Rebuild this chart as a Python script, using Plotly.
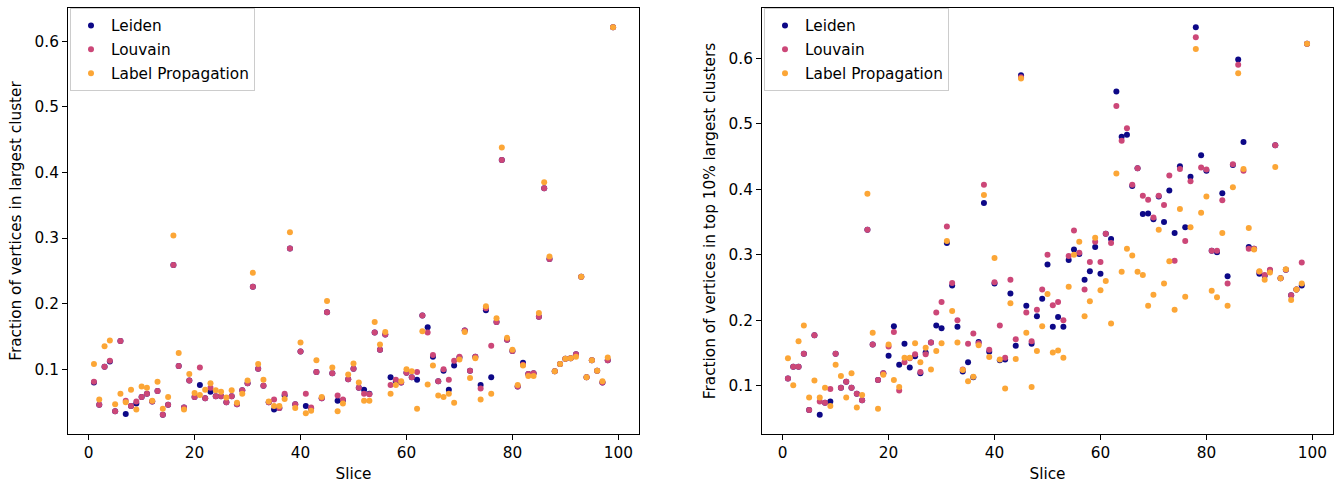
import plotly.graph_objects as go

slices = list(range(1, 100))

# Left panel: fraction of vertices in largest cluster
largest_leiden = [
    0.080, 0.046, 0.104, 0.112, 0.036, 0.143, 0.032, 0.044, 0.048, 0.058,
    0.063, 0.051, 0.067, 0.031, 0.046, 0.259, 0.105, 0.042, 0.083, 0.058,
    0.076, 0.056, 0.066, 0.059, 0.059, 0.050, 0.059, 0.047, 0.068, 0.079,
    0.226, 0.101, 0.075, 0.050, 0.039, 0.041, 0.060, 0.284, 0.047, 0.127,
    0.044, 0.040, 0.096, 0.056, 0.187, 0.094, 0.052, 0.053, 0.085, 0.101,
    0.072, 0.069, 0.063, 0.156, 0.130, 0.153, 0.088, 0.082, 0.080, 0.095,
    0.088, 0.084, 0.182, 0.164, 0.119, 0.082, 0.098, 0.069, 0.106, 0.118,
    0.159, 0.098, 0.119, 0.076, 0.190, 0.088, 0.172, 0.419, 0.145, 0.128,
    0.074, 0.110, 0.093, 0.094, 0.180, 0.376, 0.268, 0.097, 0.108, 0.116,
    0.117, 0.123, 0.241, 0.088, 0.114, 0.098, 0.080, 0.114, 0.621,
]
largest_louvain = [
    0.081, 0.046, 0.104, 0.113, 0.036, 0.143, 0.052, 0.044, 0.051, 0.058,
    0.063, 0.051, 0.067, 0.031, 0.046, 0.259, 0.105, 0.042, 0.083, 0.058,
    0.103, 0.056, 0.072, 0.059, 0.059, 0.050, 0.059, 0.047, 0.068, 0.079,
    0.226, 0.101, 0.075, 0.050, 0.054, 0.041, 0.063, 0.284, 0.047, 0.127,
    0.063, 0.042, 0.096, 0.056, 0.187, 0.094, 0.060, 0.054, 0.085, 0.101,
    0.072, 0.063, 0.062, 0.156, 0.130, 0.153, 0.076, 0.084, 0.080, 0.095,
    0.088, 0.096, 0.182, 0.156, 0.122, 0.082, 0.100, 0.084, 0.113, 0.119,
    0.159, 0.098, 0.119, 0.071, 0.193, 0.136, 0.172, 0.419, 0.145, 0.128,
    0.074, 0.107, 0.093, 0.094, 0.180, 0.376, 0.268, 0.097, 0.108, 0.116,
    0.117, 0.123, 0.241, 0.088, 0.114, 0.098, 0.080, 0.114, 0.621,
]
largest_labelprop = [
    0.108, 0.054, 0.135, 0.144, 0.047, 0.063, 0.050, 0.069, 0.039, 0.074,
    0.072, 0.052, 0.081, 0.040, 0.058, 0.304, 0.125, 0.039, 0.093, 0.064,
    0.061, 0.069, 0.079, 0.068, 0.066, 0.057, 0.068, 0.049, 0.063, 0.083,
    0.247, 0.108, 0.084, 0.051, 0.044, 0.044, 0.055, 0.309, 0.041, 0.141,
    0.033, 0.037, 0.114, 0.058, 0.204, 0.103, 0.036, 0.048, 0.092, 0.109,
    0.080, 0.052, 0.052, 0.172, 0.138, 0.157, 0.063, 0.076, 0.082, 0.100,
    0.097, 0.040, 0.158, 0.077, 0.106, 0.060, 0.058, 0.063, 0.049, 0.115,
    0.157, 0.087, 0.117, 0.054, 0.196, 0.063, 0.178, 0.438, 0.148, 0.130,
    0.076, 0.106, 0.090, 0.090, 0.186, 0.385, 0.272, 0.097, 0.108, 0.116,
    0.117, 0.119, 0.241, 0.088, 0.114, 0.098, 0.082, 0.118, 0.621,
]

# Right panel: fraction of vertices in top 10% largest clusters
top10_leiden = [
    0.111, 0.129, 0.129, 0.149, 0.063, 0.177, 0.056, 0.074, 0.076, 0.149,
    0.097, 0.106, 0.097, 0.088, 0.078, 0.338, 0.163, 0.109, 0.119, 0.146,
    0.191, 0.132, 0.164, 0.128, 0.145, 0.119, 0.151, 0.166, 0.192, 0.188,
    0.318, 0.253, 0.190, 0.122, 0.136, 0.113, 0.167, 0.379, 0.152, 0.256,
    0.139, 0.140, 0.241, 0.161, 0.574, 0.222, 0.164, 0.206, 0.233, 0.285,
    0.190, 0.205, 0.190, 0.292, 0.308, 0.301, 0.262, 0.275, 0.312, 0.271,
    0.332, 0.324, 0.549, 0.480, 0.483, 0.405, 0.432, 0.362, 0.363, 0.354,
    0.389, 0.350, 0.398, 0.333, 0.435, 0.342, 0.419, 0.647, 0.452, 0.428,
    0.306, 0.304, 0.394, 0.267, 0.437, 0.598, 0.472, 0.312, 0.309, 0.271,
    0.268, 0.276, 0.467, 0.264, 0.277, 0.238, 0.247, 0.253, 0.622,
]
top10_louvain = [
    0.111, 0.129, 0.129, 0.149, 0.063, 0.177, 0.076, 0.074, 0.095, 0.149,
    0.097, 0.106, 0.097, 0.088, 0.078, 0.338, 0.163, 0.109, 0.119, 0.160,
    0.182, 0.093, 0.136, 0.142, 0.148, 0.121, 0.148, 0.166, 0.212, 0.228,
    0.343, 0.257, 0.200, 0.125, 0.164, 0.180, 0.165, 0.407, 0.155, 0.258,
    0.192, 0.143, 0.262, 0.171, 0.571, 0.212, 0.168, 0.216, 0.247, 0.300,
    0.223, 0.228, 0.200, 0.298, 0.337, 0.303, 0.247, 0.289, 0.320, 0.289,
    0.332, 0.318, 0.527, 0.474, 0.493, 0.407, 0.432, 0.390, 0.384, 0.357,
    0.390, 0.376, 0.421, 0.291, 0.431, 0.321, 0.412, 0.632, 0.433, 0.430,
    0.306, 0.306, 0.383, 0.256, 0.438, 0.590, 0.428, 0.309, 0.309, 0.274,
    0.269, 0.277, 0.467, 0.264, 0.277, 0.238, 0.247, 0.288, 0.622,
]
top10_labelprop = [
    0.142, 0.101, 0.168, 0.192, 0.082, 0.108, 0.082, 0.097, 0.069, 0.132,
    0.115, 0.082, 0.119, 0.067, 0.086, 0.393, 0.181, 0.065, 0.117, 0.163,
    0.109, 0.098, 0.143, 0.143, 0.165, 0.136, 0.158, 0.125, 0.153, 0.165,
    0.321, 0.214, 0.166, 0.124, 0.107, 0.114, 0.162, 0.391, 0.144, 0.295,
    0.140, 0.096, 0.226, 0.141, 0.569, 0.181, 0.098, 0.153, 0.191, 0.240,
    0.151, 0.154, 0.143, 0.251, 0.300, 0.320, 0.206, 0.229, 0.326, 0.246,
    0.260, 0.195, 0.424, 0.274, 0.309, 0.299, 0.274, 0.269, 0.222, 0.239,
    0.338, 0.256, 0.290, 0.216, 0.370, 0.236, 0.342, 0.614, 0.364, 0.389,
    0.245, 0.235, 0.333, 0.222, 0.403, 0.577, 0.431, 0.341, 0.308, 0.275,
    0.262, 0.273, 0.434, 0.264, 0.278, 0.231, 0.247, 0.256, 0.622,
]

series_names = ["Leiden", "Louvain", "Label Propagation"]
colors = ["#0d0887", "#cc4778", "#fca636"]
left_title = "Fraction of vertices in largest cluster"
right_title = "Fraction of vertices in top 10% largest clusters"
x_ticks = [0, 20, 40, 60, 80, 100]
y_ticks = [0.1, 0.2, 0.3, 0.4, 0.5, 0.6]

W, H = 1340, 484
FONT = "DejaVu Sans"
FS = 15.3

def px_x(p):
    return p / W

def px_y(p):
    return 1 - p / H

def padded(vals, frac=0.05):
    lo, hi = min(vals), max(vals)
    m = (hi - lo) * frac
    return [lo - m, hi + m]

fig = go.Figure()

panels = [
    ("x", "y", "legend", [largest_leiden, largest_louvain, largest_labelprop]),
    ("x2", "y2", "legend2", [top10_leiden, top10_louvain, top10_labelprop]),
]
for xa, ya, lg, data in panels:
    for name, col, vals in zip(series_names, colors, data):
        fig.add_trace(go.Scatter(
            x=slices, y=vals, mode="markers", name=name,
            marker=dict(color=col, size=6, line=dict(width=0)),
            xaxis=xa, yaxis=ya, legend=lg, legendgroup=lg + name,
        ))

axis_common = dict(
    showgrid=False, zeroline=False, showline=True, linecolor="black",
    linewidth=1, mirror=True, ticks="outside", ticklen=5, tickwidth=1,
    tickcolor="black", tickfont=dict(family=FONT, size=FS, color="black"),
    automargin=False,
)

xr = padded(slices)
yl = padded(largest_leiden + largest_louvain + largest_labelprop)
yr = padded(top10_leiden + top10_louvain + top10_labelprop)

dom_y = [px_y(434), px_y(8)]
legend_common = dict(
    xanchor="left", yanchor="top",
    bgcolor="rgba(255,255,255,0.8)", bordercolor="#cccccc",
    borderwidth=1, tracegroupgap=1, itemwidth=30,
    font=dict(family=FONT, size=FS, color="black"),
)
fig.update_layout(
    width=W, height=H,
    margin=dict(l=0, r=0, t=0, b=0),
    paper_bgcolor="white", plot_bgcolor="white",
    font=dict(family=FONT, size=FS, color="black"),
    xaxis=dict(domain=[px_x(68), px_x(639)], range=xr, tickvals=x_ticks,
               title=dict(text="Slice", standoff=6,
                          font=dict(family=FONT, size=FS)), **axis_common),
    yaxis=dict(domain=dom_y, range=yl, tickvals=y_ticks,
               ticktext=[f"{v:.1f}" for v in y_ticks],
               title=dict(text=left_title, standoff=9,
                          font=dict(family=FONT, size=FS)), **axis_common),
    xaxis2=dict(domain=[px_x(762), px_x(1333)], range=xr, tickvals=x_ticks,
                anchor="y2",
                title=dict(text="Slice", standoff=6,
                           font=dict(family=FONT, size=FS)), **axis_common),
    yaxis2=dict(domain=dom_y, range=yr, tickvals=y_ticks, anchor="x2",
                ticktext=[f"{v:.1f}" for v in y_ticks],
                title=dict(text=right_title, standoff=9,
                           font=dict(family=FONT, size=FS)), **axis_common),
    legend=dict(x=px_x(70), y=px_y(8), **legend_common),
    legend2=dict(x=px_x(764), y=px_y(8), **legend_common),
    showlegend=True,
)

fig.write_html("out.html")
